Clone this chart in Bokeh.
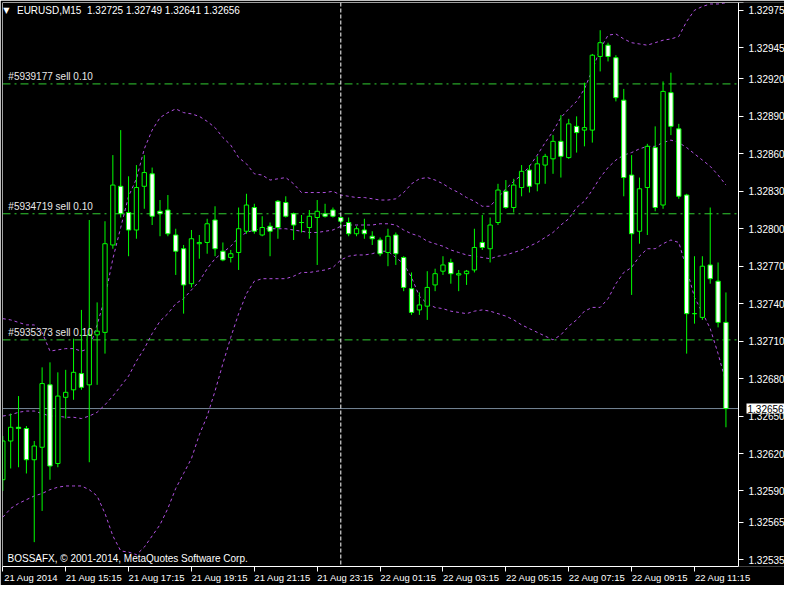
from bokeh.plotting import figure
from bokeh.models import (ColumnDataSource, FixedTicker, Span, Label, NumeralTickFormatter,
                          Range1d, LinearAxis)
from bokeh.embed import file_html
from bokeh.resources import INLINE

symbol_title = "EURUSD,M15\u00a0\u00a01.32725 1.32749 1.32641 1.32656"
copyright_text = "BOSSAFX, \u00a9 2001-2014, MetaQuotes Software Corp."

opens = [1.32599, 1.32630, 1.32641, 1.32640, 1.32615, 1.32625, 1.32675, 1.32612, 1.32665, 1.32671,
         1.32684, 1.32675, 1.32715, 1.32717, 1.32787, 1.32834, 1.32813, 1.32799, 1.32834, 1.32844,
         1.32814, 1.32815, 1.32795, 1.32784, 1.32756, 1.32788, 1.32789, 1.32807, 1.32782, 1.32777,
         1.32781, 1.32798, 1.32817, 1.32795, 1.32802, 1.32822, 1.32821, 1.32812, 1.32805, 1.32801,
         1.32809, 1.32812, 1.32815, 1.32809, 1.32805, 1.32796, 1.32799, 1.32794, 1.32791, 1.32781,
         1.32795, 1.32777, 1.32752, 1.32735, 1.32738, 1.32755, 1.32766, 1.32773, 1.32763, 1.32764,
         1.32767, 1.32789, 1.32784, 1.32805, 1.32830, 1.32817, 1.32833, 1.32847, 1.32836, 1.32851,
         1.32856, 1.32870, 1.32857, 1.32882, 1.32879, 1.32879, 1.32938, 1.32947, 1.32937, 1.32903,
         1.32843, 1.32798, 1.32833, 1.32865, 1.32819, 1.32909, 1.32880, 1.32827, 1.32732, 1.32729,
         1.32771, 1.32758, 1.32725]
highs = [1.32634, 1.32652, 1.32666, 1.32642, 1.32630, 1.32689, 1.32693, 1.32685, 1.32687, 1.32712,
         1.32735, 1.32807, 1.32741, 1.32806, 1.32859, 1.32879, 1.32842, 1.32851, 1.32859, 1.32849,
         1.32823, 1.32827, 1.32800, 1.32787, 1.32799, 1.32795, 1.32808, 1.32818, 1.32789, 1.32783,
         1.32817, 1.32828, 1.32820, 1.32810, 1.32805, 1.32823, 1.32826, 1.32813, 1.32811, 1.32815,
         1.32823, 1.32820, 1.32817, 1.32810, 1.32809, 1.32802, 1.32808, 1.32798, 1.32793, 1.32800,
         1.32797, 1.32778, 1.32765, 1.32749, 1.32766, 1.32768, 1.32778, 1.32776, 1.32767, 1.32767,
         1.32800, 1.32811, 1.32809, 1.32836, 1.32839, 1.32840, 1.32851, 1.32851, 1.32858, 1.32860,
         1.32875, 1.32891, 1.32888, 1.32890, 1.32917, 1.32940, 1.32959, 1.32949, 1.32939, 1.32912,
         1.32859, 1.32841, 1.32868, 1.32882, 1.32918, 1.32925, 1.32884, 1.32828, 1.32778, 1.32778,
         1.32817, 1.32773, 1.32749]
lows = [1.32590, 1.32608, 1.32609, 1.32604, 1.32549, 1.32574, 1.32599, 1.32609, 1.32648, 1.32663,
        1.32671, 1.32613, 1.32675, 1.32700, 1.32784, 1.32809, 1.32778, 1.32792, 1.32816, 1.32803,
        1.32794, 1.32794, 1.32763, 1.32732, 1.32753, 1.32776, 1.32780, 1.32778, 1.32774, 1.32773,
        1.32767, 1.32796, 1.32796, 1.32794, 1.32778, 1.32792, 1.32809, 1.32791, 1.32797, 1.32792,
        1.32771, 1.32809, 1.32809, 1.32802, 1.32794, 1.32794, 1.32792, 1.32787, 1.32778, 1.32770,
        1.32771, 1.32750, 1.32731, 1.32731, 1.32727, 1.32750, 1.32763, 1.32756, 1.32750, 1.32755,
        1.32765, 1.32783, 1.32773, 1.32803, 1.32816, 1.32813, 1.32826, 1.32829, 1.32830, 1.32836,
        1.32844, 1.32841, 1.32856, 1.32861, 1.32866, 1.32869, 1.32926, 1.32934, 1.32902, 1.32826,
        1.32747, 1.32788, 1.32795, 1.32814, 1.32816, 1.32875, 1.32824, 1.32700, 1.32724, 1.32727,
        1.32756, 1.32721, 1.32641]
closes = [1.32630, 1.32641, 1.32640, 1.32615, 1.32626, 1.32676, 1.32610, 1.32666, 1.32669, 1.32685,
          1.32673, 1.32715, 1.32718, 1.32788, 1.32835, 1.32812, 1.32799, 1.32833, 1.32845, 1.32810,
          1.32812, 1.32796, 1.32782, 1.32755, 1.32792, 1.32789, 1.32804, 1.32784, 1.32775, 1.32780,
          1.32800, 1.32819, 1.32798, 1.32801, 1.32798, 1.32801, 1.32810, 1.32803, 1.32805, 1.32810,
          1.32814, 1.32810, 1.32810, 1.32806, 1.32796, 1.32800, 1.32796, 1.32792, 1.32780, 1.32794,
          1.32780, 1.32753, 1.32733, 1.32739, 1.32753, 1.32764, 1.32771, 1.32764, 1.32764, 1.32766,
          1.32785, 1.32785, 1.32803, 1.32831, 1.32817, 1.32835, 1.32846, 1.32834, 1.32852, 1.32858,
          1.32870, 1.32858, 1.32884, 1.32877, 1.32881, 1.32939, 1.32949, 1.32938, 1.32905, 1.32841,
          1.32796, 1.32832, 1.32866, 1.32817, 1.32910, 1.32882, 1.32826, 1.32732, 1.32732, 1.32770,
          1.32760, 1.32725, 1.32656]

bb_upper = [1.32728, 1.32727, 1.32725, 1.32723, 1.32723, 1.32717, 1.32702, 1.32703, 1.32704, 1.32704,
            1.32702, 1.32704, 1.32723, 1.32745, 1.32776, 1.32801, 1.32826, 1.32840, 1.32864, 1.32879,
            1.32889, 1.32893, 1.32896, 1.32893, 1.32892, 1.32890, 1.32886, 1.32881, 1.32873, 1.32867,
            1.32857, 1.32852, 1.32844, 1.32843, 1.32839, 1.32840, 1.32841, 1.32836, 1.32829, 1.32829,
            1.32829, 1.32829, 1.32830, 1.32827, 1.32826, 1.32825, 1.32825, 1.32824, 1.32823, 1.32823,
            1.32824, 1.32829, 1.32836, 1.32840, 1.32841, 1.32839, 1.32836, 1.32832, 1.32829, 1.32825,
            1.32822, 1.32818, 1.32818, 1.32825, 1.32832, 1.32838, 1.32843, 1.32850, 1.32859, 1.32869,
            1.32878, 1.32889, 1.32896, 1.32902, 1.32912, 1.32927, 1.32944, 1.32955, 1.32956, 1.32952,
            1.32949, 1.32948, 1.32947, 1.32949, 1.32951, 1.32952, 1.32954, 1.32966, 1.32975, 1.32978,
            1.32980, 1.32980, 1.32981]
bb_middle = [1.32650, 1.32651, 1.32653, 1.32654, 1.32654, 1.32652, 1.32650, 1.32650, 1.32649, 1.32649,
             1.32648, 1.32650, 1.32653, 1.32659, 1.32666, 1.32674, 1.32682, 1.32694, 1.32704, 1.32716,
             1.32726, 1.32732, 1.32740, 1.32744, 1.32751, 1.32758, 1.32768, 1.32776, 1.32781, 1.32786,
             1.32793, 1.32797, 1.32799, 1.32800, 1.32800, 1.32800, 1.32800, 1.32799, 1.32798, 1.32797,
             1.32797, 1.32798, 1.32799, 1.32802, 1.32803, 1.32803, 1.32803, 1.32803, 1.32804, 1.32804,
             1.32803, 1.32799, 1.32796, 1.32794, 1.32790, 1.32788, 1.32786, 1.32783, 1.32781, 1.32779,
             1.32778, 1.32777, 1.32776, 1.32778, 1.32779, 1.32781, 1.32783, 1.32786, 1.32789, 1.32793,
             1.32797, 1.32803, 1.32808, 1.32817, 1.32822, 1.32831, 1.32841, 1.32849, 1.32855, 1.32859,
             1.32861, 1.32864, 1.32866, 1.32866, 1.32869, 1.32871, 1.32869, 1.32865, 1.32860, 1.32855,
             1.32850, 1.32843, 1.32835]
bb_lower = [1.32569, 1.32576, 1.32580, 1.32583, 1.32586, 1.32588, 1.32591, 1.32593, 1.32594, 1.32594,
            1.32594, 1.32591, 1.32586, 1.32572, 1.32554, 1.32542, 1.32541, 1.32539, 1.32545, 1.32554,
            1.32563, 1.32576, 1.32592, 1.32604, 1.32616, 1.32635, 1.32650, 1.32670, 1.32692, 1.32713,
            1.32732, 1.32748, 1.32758, 1.32760, 1.32760, 1.32760, 1.32760, 1.32762, 1.32765, 1.32765,
            1.32766, 1.32767, 1.32769, 1.32775, 1.32778, 1.32779, 1.32779, 1.32780, 1.32782, 1.32782,
            1.32777, 1.32772, 1.32761, 1.32746, 1.32740, 1.32737, 1.32736, 1.32734, 1.32733, 1.32732,
            1.32734, 1.32735, 1.32734, 1.32732, 1.32730, 1.32727, 1.32723, 1.32720, 1.32717, 1.32714,
            1.32711, 1.32715, 1.32722, 1.32727, 1.32734, 1.32737, 1.32737, 1.32744, 1.32756, 1.32765,
            1.32769, 1.32778, 1.32784, 1.32784, 1.32788, 1.32791, 1.32789, 1.32768, 1.32745, 1.32733,
            1.32720, 1.32700, 1.32677]

x_tick_bars = [0, 8, 16, 24, 32, 40, 48, 56, 64, 72, 80, 88]
x_tick_labels = ["21 Aug 2014", "21 Aug 15:15", "21 Aug 17:15", "21 Aug 19:15", "21 Aug 21:15",
                 "21 Aug 23:15", "22 Aug 01:15", "22 Aug 03:15", "22 Aug 05:15", "22 Aug 07:15",
                 "22 Aug 09:15", "22 Aug 11:15"]
y_ticks = [1.32535, 1.32565, 1.32590, 1.32620, 1.32650, 1.32680, 1.32710, 1.32740, 1.32770,
           1.32800, 1.32830, 1.32860, 1.32890, 1.32920, 1.32945, 1.32975]

order_prices = [1.32916, 1.32812, 1.32711]
order_labels = ["#5939177 sell 0.10", "#5934719 sell 0.10", "#5935373 sell 0.10"]
bid_price = 1.32656
separator_bar = 43

GREEN = "#00ff00"
ORDER_GREEN = "#32cd32"
BAND = "#b050e0"
FONT = "Liberation Sans"

n = len(opens)
xs = list(range(n))
src = ColumnDataSource(dict(
    x=xs,
    high=highs,
    low=lows,
    top=[max(o, c) for o, c in zip(opens, closes)],
    bottom=[min(o, c) for o, c in zip(opens, closes)],
    fill=["black" if c > o else "white" for o, c in zip(opens, closes)],
))

# the frame covers the chart plus the price scale; the chart ends at chart_end
x0, chart_end, x1 = -0.04, 93.6, 99.45
y0, y1 = 1.325295, 1.329812
p = figure(frame_width=782, frame_height=564, output_backend="svg", toolbar_location=None,
           x_range=Range1d(x0, x1), y_range=Range1d(y0, y1),
           y_axis_location="right", x_axis_location="below")
p.background_fill_color = "black"
p.border_fill_color = "black"
p.outline_line_color = None
p.min_border_left = 2
p.min_border_top = 2
p.min_border_right = 0
p.min_border_bottom = 0
p.xgrid.visible = False
p.ygrid.visible = False

# price scale, drawn at the chart's right edge
yax = p.yaxis[0]
yax.fixed_location = chart_end
yax.axis_line_color = "white"
yax.major_tick_line_color = "white"
yax.minor_tick_line_color = None
yax.major_tick_in = 0
yax.major_tick_out = 5
yax.major_label_text_color = "white"
yax.major_label_text_font = FONT
yax.major_label_text_font_size = "10px"
yax.ticker = FixedTicker(ticks=y_ticks)
yax.formatter = NumeralTickFormatter(format="0.00000")
yax.major_label_standoff = 5

# time scale: tick marks at the bars (minor ticks), text starting at each tick
label_shift = 3.6
label_pos = [b + label_shift for b in x_tick_bars]
xax = p.xaxis[0]
xax.bounds = (x0, chart_end)
xax.ticker = FixedTicker(ticks=label_pos, minor_ticks=x_tick_bars)
xax.major_label_overrides = {pos: t for pos, t in zip(label_pos, x_tick_labels)}
xax.axis_line_color = "white"
xax.major_tick_line_color = None
xax.major_tick_in = 0
xax.major_tick_out = 4
xax.minor_tick_line_color = "white"
xax.minor_tick_in = 0
xax.minor_tick_out = 5
xax.major_label_standoff = 0
xax.major_label_text_color = "white"
xax.major_label_text_font = FONT
xax.major_label_text_font_size = "9.5px"

# left and top borders of the chart
left_border = LinearAxis(fixed_location=x0, ticker=FixedTicker(ticks=[]),
                         axis_line_color="white", major_tick_line_color=None,
                         minor_tick_line_color=None)
p.add_layout(left_border, "left")
top_border = LinearAxis(fixed_location=y1, bounds=(x0, chart_end + 0.6), ticker=FixedTicker(ticks=[]),
                        axis_line_color="white", major_tick_line_color=None,
                        minor_tick_line_color=None)
p.add_layout(top_border, "above")

# order lines
p.segment(x0=[x0] * len(order_prices), x1=[chart_end] * len(order_prices),
          y0=order_prices, y1=order_prices, line_color=ORDER_GREEN,
          line_dash="8 4 2 4", line_width=1)
for price, lab in zip(order_prices, order_labels):
    p.add_layout(Label(x=0.7, y=price, text=lab, y_offset=2, text_baseline="bottom",
                       text_color="#e8e8e8", text_font=FONT, text_font_size="10px"))

# bid line
p.segment(x0=[x0], x1=[chart_end], y0=[bid_price], y1=[bid_price],
          line_color="#778899", line_width=1)
# period separator
p.add_layout(Span(location=separator_bar, dimension="height", line_color="white",
                  line_dash="4 2", line_width=1))

# Bollinger bands
for band in (bb_upper, bb_middle, bb_lower):
    p.line(xs, band, line_color=BAND, line_dash="3 3", line_width=1)

# candles
p.segment(x0="x", y0="low", x1="x", y1="high", source=src, line_color=GREEN, line_width=1)
p.vbar(x="x", width=0.55, top="top", bottom="bottom", source=src,
       fill_color="fill", line_color=GREEN, line_width=1)

# texts
p.add_layout(Label(x=0.45, y=y1, y_offset=-8, text="\u25bc", text_baseline="middle",
                   text_align="center", text_color="white", text_font="DejaVu Sans",
                   text_font_size="8px"))
p.add_layout(Label(x=1.8, y=y1, y_offset=-8, text=symbol_title, text_baseline="middle",
                   text_color="white", text_font=FONT, text_font_size="10px"))
p.add_layout(Label(x=0.6, y=y0, y_offset=3, text=copyright_text, text_baseline="bottom",
                   text_color="white", text_font=FONT, text_font_size="10px"))

# bid price box on the price scale
p.add_layout(Label(x=chart_end, y=bid_price, x_offset=8, text="%.5f" % bid_price,
                   text_baseline="middle", text_color="black", text_font=FONT,
                   text_font_size="10px", background_fill_color="white", padding=1))

open("out.html", "w").write(file_html(p, INLINE))
